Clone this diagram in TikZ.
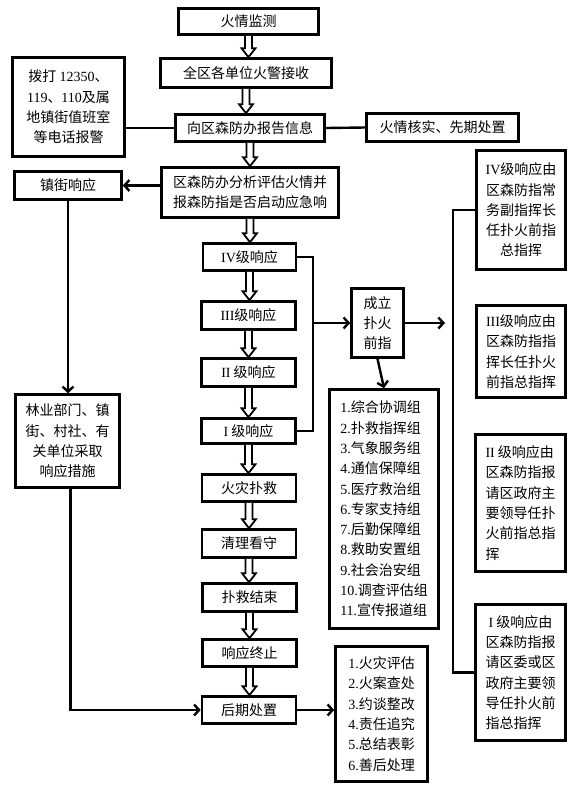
\documentclass[tikz,border=0pt]{standalone}
\usepackage{fontspec}
\setmainfont{Noto Sans CJK SC}
\newfontfamily\serifnum{Liberation Serif}
\usetikzlibrary{arrows.meta,calc}
\newcommand{\nm}[1]{{\serifnum #1}}
\tikzset{
  box/.style={draw, line width=2.6pt, inner sep=1pt, align=center,
    font=\fontsize{14pt}{20.3pt}\selectfont},
  link/.style={line width=2.4pt},
  flow/.style={line width=2.4pt, -{Straight Barb[length=5pt,width=11pt]}},
  hollow/.style={draw, line width=1.8pt, fill=white, line join=miter,
    to path={let \p1=(\tikztostart), \p2=(\tikztotarget) in
      (\x1-3.5pt,\y1) -- (\x1-3.5pt,\y2+9pt) -- (\x1-7pt,\y2+9pt) -- (\x1,\y2)
      -- (\x1+7pt,\y2+9pt) -- (\x1+3.5pt,\y2+9pt) -- (\x1+3.5pt,\y1)}}
}
\begin{document}
\begin{tikzpicture}[x=1pt, y=-1pt]
  \useasboundingbox[fill=white] (0,0) rectangle (577,790);

  % main chain
  \node[box, minimum width=140, minimum height=26] (mon) at (248.5,21.5) {火情监测};
  \node[box, minimum width=171, minimum height=29] (recv) at (246,73) {全区各单位火警接收};
  \node[box, minimum width=149, minimum height=27] (report) at (250,128) {向区森防办报告信息};
  \node[box, minimum width=177, minimum height=50] (assess) at (250,192.5) {区森防办分析评估火情并\\报森防指是否启动应急响};
  \node[box, minimum width=93, minimum height=27] (lv4) at (249.5,257) {\nm{IV}级响应};
  \node[box, minimum width=94, minimum height=28] (lv3) at (248.5,315.5) {\nm{III}级响应};
  \node[box, minimum width=94, minimum height=28] (lv2) at (248.5,372.5) {\nm{II} 级响应};
  \node[box, minimum width=94, minimum height=25] (lv1) at (248.5,431) {\nm{I} 级响应};
  \node[box, minimum width=94, minimum height=27] (fight) at (249,488) {火灾扑救};
  \node[box, minimum width=94, minimum height=28] (clear) at (249,543.5) {清理看守};
  \node[box, minimum width=94, minimum height=28] (finish) at (249.5,597.5) {扑救结束};
  \node[box, minimum width=94, minimum height=27] (stop) at (249.5,653) {响应终止};
  \node[box, minimum width=94, minimum height=27] (after) at (249,710) {后期处置};

  % side boxes
  \node[box, minimum width=112, minimum height=99] (call) at (68.5,107) {拨打 \nm{12350}、\\\nm{119}、\nm{110}及属\\地镇街值班室\\等电话报警};
  \node[box, minimum width=152, minimum height=28] (verify) at (442.5,127.5) {火情核实、先期处置};
  \node[box, minimum width=107, minimum height=28] (town) at (68,185.5) {镇街响应};
  \node[box, minimum width=104, minimum height=93] (forest) at (67.5,441) {林业部门、镇\\街、村社、有\\关单位采取\\响应措施};
  \node[box, minimum width=52, minimum height=69] (cmd) at (377.5,323) {成立\\扑火\\前指};
  \node[box, align=left, minimum width=109, minimum height=239] (groups) at (384,509) {\nm{1.}综合协调组\\\nm{2.}扑救指挥组\\\nm{3.}气象服务组\\\nm{4.}通信保障组\\\nm{5.}医疗救治组\\\nm{6.}专家支持组\\\nm{7.}后勤保障组\\\nm{8.}救助安置组\\\nm{9.}社会治安组\\\nm{10.}调查评估组\\\nm{11.}宣传报道组};
  \node[box, align=left, minimum width=92, minimum height=135] (aftlist) at (381.5,714) {\nm{1.}火灾评估\\\nm{2.}火案查处\\\nm{3.}约谈整改\\\nm{4.}责任追究\\\nm{5.}总结表彰\\\nm{6.}善后处理};

  % commander boxes
  \node[box, minimum width=89, minimum height=119] (r4) at (521,210) {\nm{IV}级响应由\\区森防指常\\务副指挥长\\任扑火前指\\总指挥};
  \node[box, minimum width=89, minimum height=92] (r3) at (521,351.5) {\nm{III}级响应由\\区森防指指\\挥长任扑火\\前指总指挥};
  \node[box, align=left, minimum width=90, minimum height=137] (r2) at (520.5,503) {\nm{II} 级响应由\\区森防指报\\请区政府主\\要领导任扑\\火前指总指\\挥};
  \node[box, align=left, minimum width=90, minimum height=136] (r1) at (520.5,672.5) {\ \nm{I} 级响应由\\区森防指报\\请区委或区\\政府主要领\\导任扑火前\\指总指挥};

  \coordinate (brk) at (313,323);
  \coordinate (spine) at (453,323);
  \coordinate (fanin) at (445,323);

  % hollow arrows down the chain
  \draw[hollow] (mon.south) to (recv.north);
  \draw[hollow] (recv.south) to (report.north);
  \draw[hollow] (report.south) to (assess.north);
  \draw[hollow] (assess.south) to (lv4.north);
  \draw[hollow] (lv4.south) to (lv3.north);
  \draw[hollow] (lv3.south) to (lv2.north);
  \draw[hollow] (lv2.south) to (lv1.north);
  \draw[hollow] (lv1.south) to (fight.north);
  \draw[hollow] (fight.south) to (clear.north);
  \draw[hollow] (clear.south) to (finish.north);
  \draw[hollow] (finish.south) to (stop.north);
  \draw[hollow] (stop.south) to (after.north);

  % plain links
  \draw[link] (report.west) -- (report.west -| call.east);
  \draw[link] (report.east) -- (verify.west);
  \draw[flow] (assess.west |- town.east) -- (town.east);
  \draw[flow] (town.south) -- (town.south |- forest.north);
  \draw[flow] ([xshift=3pt]forest.south) |- (after.west);
  \draw[link] (lv4.east) -- (lv4.east -| brk) -- (lv1.east -| brk) -- (lv1.east);
  \draw[flow] (brk) -- (cmd.west);
  \draw[flow] (cmd.east) -- (fanin);
  \draw[flow] (cmd.south) -- (groups.north);
  \draw[link] (r4.west) -- (r4.west -| spine) -- (r1.west -| spine) -- (r1.west);
  \draw[flow] (after.east) -- (after.east -| aftlist.west);
\end{tikzpicture}
\end{document}
